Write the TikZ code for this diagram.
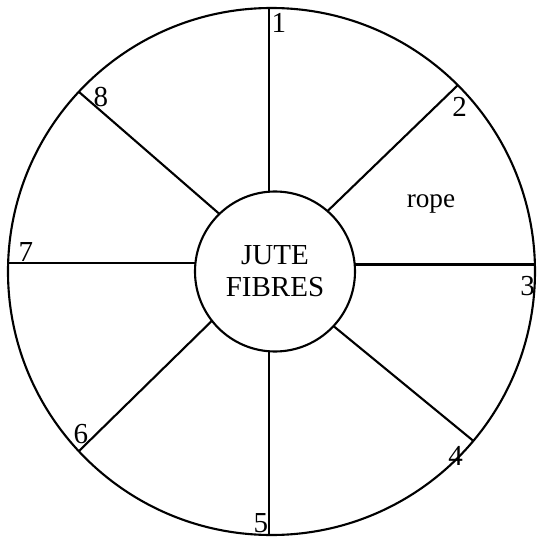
\documentclass[tikz,border=0pt]{standalone}
\usepackage{fontspec}
\setmainfont{Liberation Serif}
\usepackage{tikz}

\begin{document}
\begin{tikzpicture}[line width=1.2pt,
	ring/.style={circle, draw, inner sep=0pt, outer sep=0pt},
	num/.style={font=\fontsize{16.5}{16.5}\selectfont, inner sep=0pt}]
		\useasboundingbox (-5.43,-5.45) rectangle (5.33,5.43);
		%draw circles
		\node (rim) [ring, minimum size=10.54cm] at (0,0) {};
		\node (hub) [ring, minimum size=3.2cm, align=center,
		font=\fontsize{16.5}{18.2}\selectfont] at (0.07,0) {JUTE\\FIBRES};
		%draw spokes
		\draw (hub.94.3) -- (hub.94.3 |- rim.north);
		\draw (hub.49) -- (rim.45.3);
		\draw (hub.5.4) -- (hub.5.4 -| rim.east);
		\draw (hub.-43.5) -- (rim.-40.4);
		\draw (hub.-94.3) -- (hub.-94.3 |- rim.south);
		\draw (hub.-142) -- (rim.-137.8);
		\draw (hub.174.6) -- (hub.174.6 -| rim.west);
		\draw (hub.134) -- (rim.137.8);
		%draw labels
		\node (n1) [num] at (0.15,4.98) {1};
		\node (n2) [num] at (3.76,3.29) {2};
		\node (n3) [num] at (5.12,-0.29) {3};
		\node (n4) [num] at (3.68,-3.68) {4};
		\node (n5) [num] at (-0.21,-5.03) {5};
		\node (n6) [num] at (-3.81,-3.25) {6};
		\node (n7) [num] at (-4.91,0.39) {7};
		\node (n8) [num] at (-3.41,3.49) {8};
		\node (rope) [font=\fontsize{15.5}{15.5}\selectfont, inner sep=0pt] at (3.19,1.35) {rope};
	\end{tikzpicture}
\end{document}
